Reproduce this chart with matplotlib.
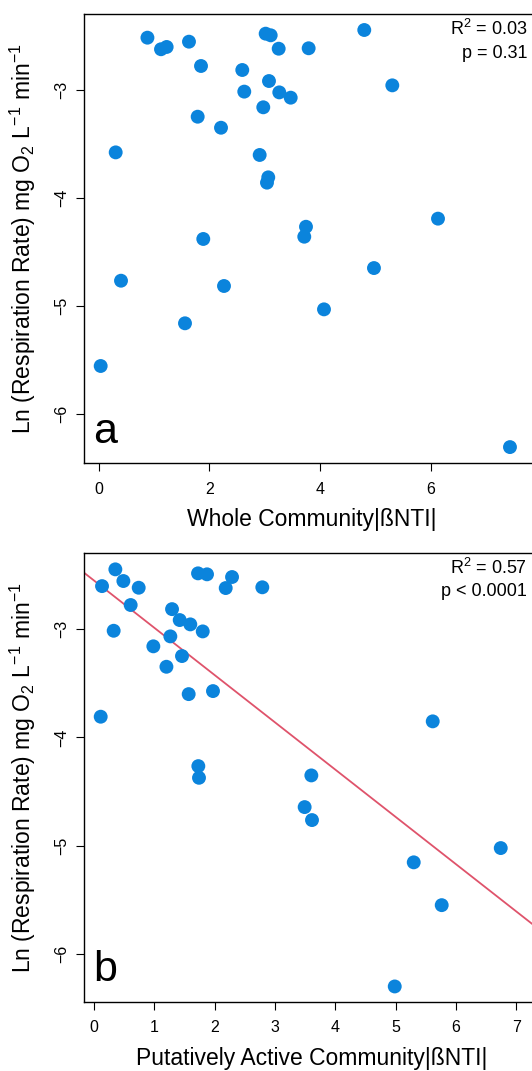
import numpy as np
import matplotlib
matplotlib.use("Agg")
import matplotlib.pyplot as plt

plt.rcParams['font.family'] = ['Liberation Sans', 'DejaVu Sans']
plt.rcParams['mathtext.fontset'] = 'custom'
plt.rcParams['mathtext.rm'] = 'Liberation Sans'
plt.rcParams['mathtext.it'] = 'Liberation Sans:italic'

# panel a: whole community |betaNTI| vs ln respiration
whole_bnti = [0.88, 1.125, 1.227, 1.63, 0.307, 1.847, 1.787, 1.888, 2.208, 2.592,
              2.628, 2.906, 2.971, 3.014, 3.105, 3.074, 3.061, 3.038, 3.249, 3.26,
              3.466, 3.79, 3.742, 3.711, 4.794, 5.3, 6.125, 4.969, 0.403, 0.036,
              1.558, 2.262, 4.067, 7.424]
whole_resp = [-2.516, -2.623, -2.602, -2.553, -3.577, -2.778, -3.247, -4.378, -3.349, -2.815,
              -3.015, -3.601, -3.16, -2.479, -2.494, -2.917, -3.808, -3.857, -2.618, -3.022,
              -3.071, -2.614, -4.265, -4.357, -2.445, -2.957, -4.19, -4.647, -4.764, -5.553,
              -5.158, -4.813, -5.029, -6.303]

# panel b: putatively active community
active_bnti = [0.133, 0.354, 0.487, 0.741, 0.608, 0.326, 0.111, 0.984, 1.201, 1.266,
               1.294, 1.421, 1.459, 1.597, 1.57, 1.725, 1.874, 1.803, 1.973, 1.73,
               1.741, 2.184, 2.289, 2.791, 5.617, 3.604, 3.493, 3.615, 5.302, 6.745,
               5.766, 4.987]
active_resp = [-2.6, -2.445, -2.553, -2.615, -2.775, -3.013, -3.808, -3.157, -3.346, -3.065,
               -2.813, -2.914, -3.247, -2.954, -3.599, -2.482, -2.491, -3.019, -3.571, -4.265,
               -4.373, -2.618, -2.516, -2.611, -3.851, -4.351, -4.644, -4.764, -5.155, -5.023,
               -5.551, -6.303]

stats_a = ["R$^2$ = 0.03", "p = 0.31"]
stats_b = ["R$^2$ = 0.57", "p < 0.0001"]

pt_color = "#0B84DC"
fit_color = "#DF536B"
ylab = "Ln (Respiration Rate) mg O$_2$ L$^{-1}$ min$^{-1}$"

fig = plt.figure(figsize=(5.32, 10.71), dpi=100)
W, H = 532, 1071


def make_axes(left, top, right, bottom):
    return fig.add_axes([left / W, 1 - bottom / H, (right - left) / W, (bottom - top) / H])


def style(ax, xticks, xlabel, letter, stats, stat_y):
    ax.set_yticks([-6, -5, -4, -3])
    ax.set_xticks(xticks)
    ax.tick_params(direction='out', length=5.5, width=0.8, labelsize=11.5, colors='black')
    ax.tick_params(axis='x', pad=8)
    ax.tick_params(axis='y', pad=5)
    for lab in ax.get_yticklabels():
        lab.set_rotation(90)
        lab.set_va('center')
    for sp in ax.spines.values():
        sp.set_linewidth(1.0)
    ax.set_ylabel(ylab, fontsize=16.5, labelpad=12)
    ax.set_xlabel(xlabel, fontsize=16.5, labelpad=8)
    ax.text(0.02, 0.025, letter, transform=ax.transAxes, fontsize=31, ha='left', va='bottom')
    fig.text(527 / W, 1 - stat_y / H, stats[0], fontsize=13, ha='right', va='center')
    fig.text(527 / W, 1 - (stat_y + 24) / H, stats[1], fontsize=13, ha='right', va='center')


ax1 = make_axes(84, 14, 540, 463.3)
ax1.scatter(whole_bnti, whole_resp, s=100, color=pt_color, edgecolors='none', zorder=3)
ax1.set_xlim(-0.265, 7.966)
ax1.set_ylim(-6.453, -2.297)
style(ax1, [0, 2, 4, 6], "Whole Community|ßNTI|", 'a', stats_a, 29)

ax2 = make_axes(84, 552.7, 540, 1001.7)
ax2.scatter(active_bnti, active_resp, s=100, color=pt_color, edgecolors='none', zorder=3)
slope, intercept = np.polyfit(active_bnti, active_resp, 1)
xs = np.array([-1, 9])
ax2.plot(xs, intercept + slope * xs, color=fit_color, lw=1.3, zorder=2)
ax2.set_xlim(-0.166, 7.396)
ax2.set_ylim(-6.444, -2.291)
style(ax2, [0, 1, 2, 3, 4, 5, 6, 7], "Putatively Active Community|ßNTI|", 'b', stats_b, 568)

fig.savefig("out.png", dpi=100)
